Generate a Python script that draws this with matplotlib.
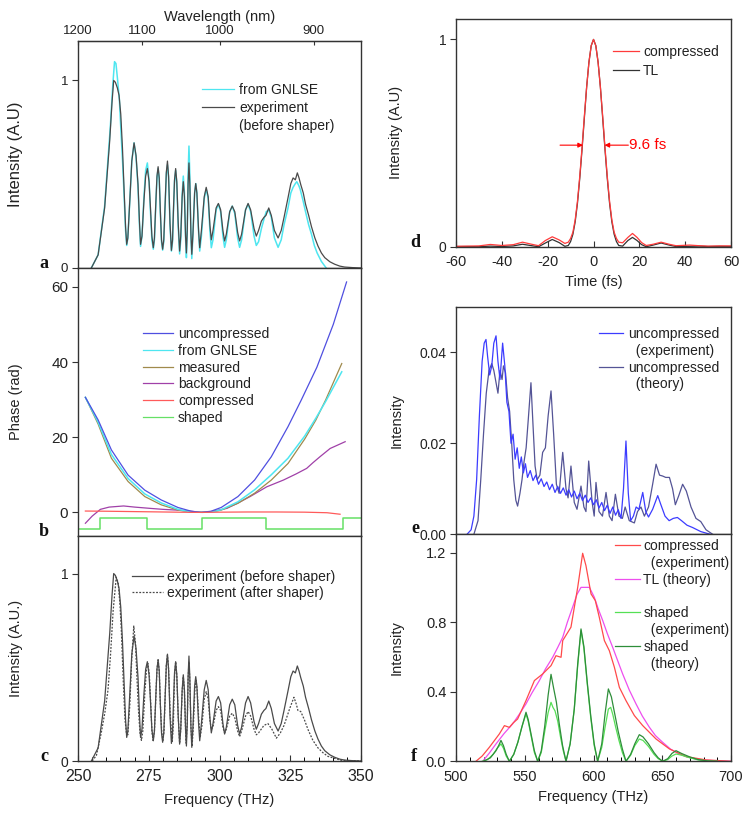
import numpy as np
import matplotlib
matplotlib.use('Agg')
import matplotlib.pyplot as plt
from matplotlib.lines import Line2D
from matplotlib.ticker import MultipleLocator, FixedLocator, NullLocator

plt.rcParams['font.family'] = ['Liberation Sans', 'DejaVu Sans']
plt.rcParams['axes.unicode_minus'] = False

# ---------------- data ----------------
# panel a / c : experiment before shaper  (frequency THz, intensity)
exp_before_pts = [
    (254.7, 0.0), (257.1, 0.07), (259.4, 0.32), (261.2, 0.68), (262.0, 0.88), (262.6, 1.0), (263.2, 0.99),
    (263.9, 0.96), (264.5, 0.92), (265.1, 0.82), (265.7, 0.64), (266.3, 0.41), (266.8, 0.22), (267.2, 0.126),
    (267.6, 0.16), (268.3, 0.36), (269.0, 0.57), (269.8, 0.667), (270.5, 0.60), (271.2, 0.445), (271.7, 0.25),
    (272.1, 0.126), (272.6, 0.17), (273.3, 0.36), (273.9, 0.49), (274.5, 0.53), (275.1, 0.46), (275.6, 0.32),
    (276.1, 0.17), (276.6, 0.108), (277.0, 0.16), (277.5, 0.35), (277.9, 0.49), (278.3, 0.54), (278.7, 0.48),
    (279.1, 0.30), (279.5, 0.15), (279.9, 0.10), (280.3, 0.15), (280.8, 0.35), (281.2, 0.51), (281.6, 0.57),
    (282.0, 0.49), (282.5, 0.24), (283.0, 0.094), (283.4, 0.15), (283.7, 0.30), (284.1, 0.47), (284.5, 0.53),
    (284.9, 0.46), (285.4, 0.24), (285.9, 0.09), (286.3, 0.17), (286.8, 0.38), (287.2, 0.46), (287.6, 0.38),
    (288.0, 0.17), (288.3, 0.08), (288.6, 0.20), (288.9, 0.45), (289.2, 0.56), (289.5, 0.45), (289.9, 0.18),
    (290.2, 0.073), (290.6, 0.18), (291.2, 0.40), (291.6, 0.45), (292.0, 0.40), (292.6, 0.20), (293.0, 0.108),
    (293.6, 0.20), (294.6, 0.38), (295.3, 0.43), (296.0, 0.38), (296.6, 0.23), (297.1, 0.15), (297.7, 0.20),
    (298.8, 0.32), (299.6, 0.344), (300.4, 0.31), (301.2, 0.20), (301.8, 0.144), (302.4, 0.18), (303.6, 0.30),
    (304.5, 0.33), (305.4, 0.30), (306.4, 0.19), (307.1, 0.144), (307.8, 0.18), (309.2, 0.31), (310.1, 0.344),
    (311.0, 0.31), (312.2, 0.21), (313.0, 0.17), (313.8, 0.20), (314.8, 0.25), (315.7, 0.27), (316.4, 0.28),
    (317.4, 0.32), (318.3, 0.28), (319.4, 0.20), (320.7, 0.16), (321.8, 0.20), (322.8, 0.27), (324.2, 0.374),
    (325.2, 0.45), (326.0, 0.48), (326.8, 0.47), (327.5, 0.507), (328.1, 0.48), (328.7, 0.445), (329.6, 0.40),
    (330.4, 0.34), (331.5, 0.28), (332.5, 0.22), (333.7, 0.16), (334.8, 0.117), (336.0, 0.08), (337.2, 0.055),
    (339.0, 0.033), (340.7, 0.02), (342.5, 0.01), (344.2, 0.005), (347.0, 0.002), (350.0, 0.0)]

# panel a : from GNLSE
gnlse_pts = [
    (254.7, 0.0), (257.1, 0.07), (259.4, 0.33), (261.4, 0.75), (262.3, 0.98), (262.9, 1.10), (263.4, 1.09),
    (264.0, 1.0), (264.6, 0.90), (265.2, 0.72), (265.8, 0.55), (266.3, 0.38), (266.8, 0.20), (267.2, 0.12),
    (267.6, 0.16), (268.3, 0.36), (269.0, 0.57), (269.8, 0.667), (270.5, 0.59), (271.2, 0.43), (271.7, 0.23),
    (272.1, 0.115), (272.6, 0.17), (273.3, 0.38), (273.9, 0.52), (274.5, 0.56), (275.1, 0.47), (275.6, 0.30),
    (276.1, 0.15), (276.6, 0.10), (277.0, 0.15), (277.5, 0.34), (277.9, 0.48), (278.3, 0.53), (278.7, 0.47),
    (279.1, 0.29), (279.5, 0.14), (279.9, 0.095), (280.3, 0.14), (280.8, 0.34), (281.2, 0.50), (281.6, 0.55),
    (282.0, 0.48), (282.5, 0.23), (283.0, 0.09), (283.4, 0.14), (283.7, 0.29), (284.1, 0.46), (284.5, 0.52),
    (284.9, 0.45), (285.4, 0.22), (285.9, 0.075), (286.3, 0.15), (286.8, 0.39), (287.2, 0.49), (287.6, 0.40),
    (288.0, 0.16), (288.3, 0.055), (288.6, 0.20), (288.9, 0.50), (289.2, 0.65), (289.5, 0.50), (289.9, 0.17),
    (290.2, 0.05), (290.6, 0.17), (291.2, 0.40), (291.6, 0.45), (292.0, 0.40), (292.6, 0.19), (293.0, 0.09),
    (293.6, 0.17), (294.6, 0.37), (295.3, 0.42), (296.0, 0.37), (296.6, 0.20), (297.1, 0.108), (297.7, 0.15),
    (298.8, 0.31), (299.6, 0.34), (300.4, 0.30), (301.2, 0.17), (301.8, 0.11), (302.4, 0.15), (303.6, 0.30),
    (304.5, 0.33), (305.4, 0.29), (306.4, 0.16), (307.1, 0.11), (307.8, 0.15), (309.2, 0.31), (310.1, 0.34),
    (311.0, 0.30), (312.2, 0.17), (313.0, 0.12), (313.8, 0.14), (314.8, 0.21), (315.7, 0.26), (316.5, 0.30),
    (317.4, 0.31), (318.3, 0.27), (319.4, 0.16), (320.7, 0.11), (321.8, 0.15), (322.8, 0.23), (324.2, 0.32),
    (325.2, 0.40), (326.0, 0.43), (326.8, 0.45), (327.3, 0.46), (328.0, 0.44), (328.5, 0.42), (329.5, 0.36),
    (330.4, 0.30), (331.5, 0.23), (332.5, 0.18), (333.5, 0.12), (334.5, 0.08), (336.0, 0.035), (337.7, 0.0)]

# panel c : experiment after shaper
exp_after_pts = [
    (255.0, 0.0), (256.5, 0.03), (258.2, 0.15), (259.5, 0.26), (260.6, 0.38), (261.5, 0.57), (262.4, 0.80),
    (263.5, 0.98), (264.2, 0.95), (264.8, 0.84), (265.3, 0.70), (266.0, 0.42), (266.6, 0.22), (267.1, 0.15),
    (267.6, 0.14), (268.3, 0.30), (269.0, 0.55), (269.7, 0.72), (270.3, 0.63), (270.8, 0.45), (271.4, 0.26),
    (271.9, 0.15), (272.4, 0.11), (272.9, 0.16), (273.6, 0.36), (274.2, 0.49), (274.7, 0.52), (275.2, 0.46),
    (275.8, 0.27), (276.1, 0.16), (276.5, 0.11), (277.0, 0.16), (277.5, 0.34), (277.9, 0.49), (278.3, 0.54),
    (278.7, 0.48), (279.1, 0.30), (279.6, 0.15), (280.0, 0.11), (280.4, 0.16), (280.8, 0.35), (281.2, 0.51),
    (281.6, 0.565), (282.0, 0.49), (282.6, 0.24), (283.3, 0.105), (283.7, 0.20), (284.1, 0.45), (284.5, 0.53),
    (284.9, 0.46), (285.4, 0.24), (285.9, 0.095), (286.3, 0.17), (286.8, 0.37), (287.2, 0.45), (287.6, 0.37),
    (288.0, 0.17), (288.2, 0.095), (288.6, 0.20), (288.9, 0.44), (289.2, 0.53), (289.5, 0.43), (289.9, 0.18),
    (290.3, 0.078), (290.7, 0.17), (291.3, 0.38), (291.7, 0.43), (292.1, 0.38), (292.7, 0.21), (293.2, 0.13),
    (293.8, 0.19), (294.6, 0.33), (295.3, 0.37), (296.0, 0.33), (296.6, 0.22), (297.1, 0.167), (297.8, 0.19),
    (298.8, 0.27), (299.6, 0.29), (300.4, 0.27), (301.2, 0.18), (301.8, 0.15), (302.4, 0.17), (303.6, 0.24),
    (304.5, 0.255), (305.4, 0.23), (306.4, 0.16), (307.1, 0.13), (307.8, 0.16), (309.2, 0.24), (310.1, 0.264),
    (311.0, 0.24), (312.2, 0.17), (313.0, 0.14), (313.8, 0.15), (315.7, 0.19), (317.1, 0.20), (318.5, 0.17),
    (320.1, 0.122), (321.5, 0.15), (322.8, 0.19), (324.8, 0.28), (326.3, 0.34), (327.2, 0.30), (327.7, 0.27),
    (328.7, 0.264), (330.0, 0.22), (331.3, 0.167), (333.0, 0.11), (334.8, 0.07), (336.5, 0.045), (338.3, 0.025),
    (343.0, 0.004), (350.0, 0.0)]

freq_exp, int_exp = [list(v) for v in zip(*exp_before_pts)]
freq_gnlse, int_gnlse = [list(v) for v in zip(*gnlse_pts)]
freq_after, int_after = [list(v) for v in zip(*exp_after_pts)]

# panel b : phases (rad)
freq_unc = [252.6, 257.1, 261.8, 267.7, 273.6, 279.4, 285.3, 290.0, 293.6, 297.0, 300.6, 306.5, 312.4,
            318.3, 324.2, 328.9, 334.4, 340.2, 344.9]
phase_unc = [30.6, 24.6, 16.6, 9.9, 5.9, 3.3, 1.3, 0.3, 0.0, 0.3, 1.3, 4.2, 8.6,
             14.8, 22.8, 29.9, 38.6, 50.0, 61.3]
freq_meas = [252.6, 257.1, 261.8, 267.7, 273.6, 279.4, 285.3, 290.0, 294.0, 298.0, 300.6, 306.5, 312.4,
             318.3, 324.2, 330.1, 334.0, 337.5, 343.2]
phase_gnlse = [30.6, 24.0, 15.4, 9.0, 4.9, 2.5, 0.8, 0.1, 0.0, 0.2, 0.7, 2.8, 6.0,
               10.0, 14.4, 20.3, 25.0, 29.5, 37.4]
phase_meas = [30.6, 23.5, 14.4, 8.2, 4.2, 2.0, 0.6, 0.1, 0.0, 0.2, 0.6, 2.4, 5.1,
              8.6, 13.0, 19.5, 24.5, 29.9, 39.6]
freq_bg = [252.6, 255.0, 257.9, 261.0, 266.1, 270.0, 275.5, 280.0, 284.9, 290.0, 293.2, 297.0, 302.6,
           306.0, 310.8, 316.7, 322.6, 327.0, 330.8, 333.0, 335.5, 339.1, 344.4]
phase_bg = [-2.9, -1.0, 0.8, 1.4, 1.7, 1.4, 1.06, 0.8, 0.6, 0.3, 0.0, 0.2, 1.06,
            2.3, 4.2, 6.8, 8.6, 10.2, 11.7, 13.2, 14.8, 17.0, 18.8]
freq_comp = [252.6, 260.0, 270.0, 280.0, 290.0, 294.0, 300.0, 310.0, 320.0, 330.0, 338.0, 342.6]
phase_comp = [0.35, 0.30, 0.20, 0.10, 0.0, 0.0, 0.05, 0.10, 0.10, 0.05, -0.10, -0.50]
freq_shaped = [250.0, 257.9, 274.4, 293.8, 316.5, 343.5, 350.0]
phase_shaped = [-4.5, -1.4, -4.5, -1.4, -4.5, -1.4, -1.4]

# panel d : temporal intensity
time_fs = [-60, -55, -50, -45, -40, -35, -31, -27, -24, -21, -18, -15, -12.5, -11, -10, -9, -8, -7, -6,
           -5, -4, -3, -2, -1, 0, 1, 2, 3, 4, 5, 6, 7, 8, 9, 10, 11, 12.7, 15, 17, 19, 21, 23, 26,
           29.5, 33, 36, 42, 46, 50, 55, 60]
int_compressed_t = [0.002, 0.003, 0.004, 0.011, 0.006, 0.010, 0.022, 0.012, 0.005, 0.030, 0.048, 0.033,
                    0.016, 0.022, 0.040, 0.070, 0.130, 0.220, 0.340, 0.480, 0.630, 0.770, 0.890, 0.970,
                    1.000, 0.970, 0.890, 0.770, 0.630, 0.480, 0.340, 0.220, 0.130, 0.070, 0.040, 0.022,
                    0.019, 0.045, 0.064, 0.045, 0.020, 0.006, 0.012, 0.022, 0.012, 0.005, 0.008, 0.005,
                    0.003, 0.004, 0.004]
int_tl_t = [0.001, 0.001, 0.000, 0.003, 0.001, 0.004, 0.012, 0.005, 0.000, 0.018, 0.035, 0.020,
            0.002, 0.006, 0.025, 0.060, 0.120, 0.210, 0.330, 0.470, 0.620, 0.770, 0.890, 0.970,
            1.000, 0.970, 0.890, 0.770, 0.620, 0.470, 0.330, 0.210, 0.120, 0.060, 0.025, 0.006,
            0.003, 0.030, 0.045, 0.030, 0.010, 0.000, 0.008, 0.018, 0.008, 0.001, 0.002, 0.003,
            0.001, 0.002, 0.001]

# panel e : uncompressed
freq_e_exp = [508, 511, 513, 515, 517, 519, 520.5, 521.8, 523, 524.5, 526, 527.5, 529.1, 530.5, 532, 533.9,
              535.5, 537, 538.5, 540, 541.5, 543, 544.5, 546, 547.5, 549, 550.5, 552, 554, 556, 558, 560,
              562, 564, 566, 568, 570, 572, 574, 576, 578, 580, 582, 584, 586, 588, 590, 592, 594, 596,
              598, 600, 602, 604, 606, 608, 610, 612, 614, 616, 618, 620, 621.8, 623.6, 625.3, 627, 629,
              631, 633, 635.8, 638, 640, 643, 646.7, 649, 652, 655, 658, 661, 664, 668, 672, 678, 685]
int_e_exp = [0, 0.001, 0.004, 0.012, 0.026, 0.038, 0.042, 0.0428, 0.039, 0.035, 0.037, 0.042, 0.0436, 0.038,
             0.034, 0.042, 0.037, 0.029, 0.027, 0.020, 0.022, 0.0165, 0.019, 0.0145, 0.017, 0.0135, 0.0155,
             0.0125, 0.014, 0.0118, 0.013, 0.011, 0.0122, 0.0105, 0.0115, 0.0098, 0.011, 0.0092, 0.0105,
             0.009, 0.0102, 0.0086, 0.0098, 0.0082, 0.0095, 0.0078, 0.009, 0.0074, 0.0086, 0.007, 0.008,
             0.0065, 0.0076, 0.0058, 0.007, 0.0052, 0.0064, 0.0046, 0.006, 0.0042, 0.0054, 0.0035, 0.010,
             0.0205, 0.009, 0.003, 0.004, 0.006, 0.0055, 0.0092, 0.005, 0.0038, 0.0055, 0.0085, 0.0065,
             0.004, 0.003, 0.0035, 0.0037, 0.003, 0.002, 0.0015, 0.0006, 0]
freq_e_th = [513, 516, 518, 520, 522, 524, 526, 527.5, 529, 530.5, 532, 533.5, 534.5, 536, 537.5, 539, 540.5,
             542, 543.5, 544.8, 546.5, 548, 549.5, 551, 552.5, 554.5, 556, 557.5, 559, 561, 563, 565, 567,
             569.1, 571, 573, 575, 577.6, 580, 581.5, 583.6, 586, 588, 590.9, 593, 594.5, 596.5, 599, 600.5,
             601.8, 604, 606.5, 609.1, 611.5, 613.5, 615.9, 618.5, 621, 623, 626, 629.7, 632, 634.5, 637,
             640, 643, 645.5, 648, 650.3, 652.5, 655.2, 657.5, 659.5, 662, 664.8, 667.5, 670.9, 674.5, 678,
             681.8, 686.7]
int_e_th = [0, 0.003, 0.012, 0.022, 0.031, 0.036, 0.0375, 0.036, 0.0335, 0.031, 0.036, 0.034, 0.037, 0.0355,
            0.030, 0.027, 0.020, 0.012, 0.0075, 0.0062, 0.009, 0.012, 0.016, 0.019, 0.025, 0.0333, 0.024,
            0.015, 0.012, 0.013, 0.018, 0.019, 0.026, 0.0315, 0.022, 0.011, 0.009, 0.018, 0.010, 0.008,
            0.015, 0.007, 0.0055, 0.0106, 0.006, 0.005, 0.0161, 0.007, 0.004, 0.0114, 0.005, 0.004, 0.0092,
            0.004, 0.003, 0.0088, 0.004, 0.0035, 0.006, 0.003, 0.0025, 0.005, 0.006, 0.004, 0.006, 0.011,
            0.0154, 0.013, 0.0128, 0.0125, 0.0125, 0.010, 0.0065, 0.0085, 0.011, 0.0095, 0.006, 0.0035,
            0.0028, 0.001, 0]

# panel f : compressed / TL / shaped
freq_f_comp = [514.5, 519, 524.2, 528, 531.5, 535.2, 538.8, 541.5, 544.8, 550.9, 557.0, 563.0, 569.1, 572.7,
               576.4, 577.6, 583.6, 588.5, 592.1, 594.5, 598.2, 601.3, 604.2, 607.9, 611.5, 615.2, 618.8,
               623.6, 629.7, 635.8, 645.5, 655.2, 667.3, 681.8, 700]
int_f_comp = [0, 0.03, 0.08, 0.12, 0.157, 0.205, 0.195, 0.22, 0.243, 0.349, 0.464, 0.502, 0.55, 0.607,
              0.598, 0.694, 0.771, 1.0, 1.196, 1.125, 0.962, 0.924, 0.828, 0.694, 0.636, 0.54, 0.425,
              0.349, 0.263, 0.205, 0.128, 0.071, 0.027, 0.008, 0]
freq_f_tl = [519.4, 524, 529.1, 535, 541.2, 546, 550.9, 555, 560.6, 565, 570.3, 574, 577.6, 581, 584.8,
             588, 590.9, 594, 597, 600.6, 603.5, 606.7, 610, 613.9, 617.5, 621.2, 626, 630.9, 635.5, 640.6,
             645, 650.3, 656, 662.4, 668, 674.5, 682, 691.5, 700]
int_f_tl = [0, 0.045, 0.10, 0.16, 0.215, 0.27, 0.33, 0.39, 0.464, 0.53, 0.598, 0.655, 0.713, 0.80, 0.886,
            0.96, 1.0, 1.0, 1.0, 0.943, 0.875, 0.809, 0.735, 0.656, 0.58, 0.502, 0.41, 0.33, 0.26, 0.196,
            0.148, 0.109, 0.07, 0.042, 0.025, 0.013, 0.006, 0.002, 0]
freq_f_shexp = [519, 523, 527, 530, 532.7, 534.5, 536.5, 538.8, 542, 545, 548, 550.9, 552.5, 555, 557, 559.4,
                562, 564.5, 567, 569.1, 570.5, 572, 574, 576, 578, 580, 583, 586, 588.5, 590.9, 593, 595.5,
                598, 600.5, 603, 606, 608.5, 610.8, 612.5, 614, 616, 618.5, 621, 623.6, 627, 630, 633.3, 636,
                640, 644, 647, 650.3, 654, 657, 660, 664, 670, 676, 683, 690]
int_f_shexp = [0, 0.01, 0.04, 0.075, 0.10, 0.075, 0.03, 0, 0.04, 0.11, 0.20, 0.272, 0.23, 0.13, 0.05, 0,
               0.05, 0.17, 0.28, 0.339, 0.31, 0.29, 0.23, 0.14, 0.06, 0, 0.10, 0.30, 0.55, 0.751, 0.65, 0.44,
               0.25, 0.09, 0, 0.08, 0.20, 0.30, 0.31, 0.27, 0.20, 0.12, 0.05, 0, 0.035, 0.09, 0.128, 0.12,
               0.085, 0.04, 0.015, 0, 0.01, 0.03, 0.042, 0.035, 0.02, 0.008, 0.002, 0]
freq_f_shth = [520, 525, 529, 531, 532.7, 534.5, 536.5, 538.8, 542, 545, 548, 550.9, 552.5, 555, 557, 559.4,
               562, 564.5, 567, 569.1, 571, 573, 575, 577.5, 580, 583, 586, 588.5, 590.9, 593, 595.5, 598,
               600.5, 603, 606, 608.5, 610.8, 613, 615.5, 618, 621, 623.6, 627, 630, 633.3, 636, 640, 644,
               647, 650.3, 654, 657, 660, 664, 670, 676, 683, 690]
int_f_shth = [0, 0.02, 0.06, 0.09, 0.12, 0.09, 0.04, 0, 0.04, 0.11, 0.20, 0.282, 0.24, 0.14, 0.06, 0,
              0.06, 0.20, 0.38, 0.50, 0.42, 0.34, 0.22, 0.09, 0, 0.10, 0.30, 0.56, 0.761, 0.66, 0.45, 0.26,
              0.10, 0, 0.10, 0.28, 0.416, 0.37, 0.27, 0.17, 0.07, 0, 0.04, 0.10, 0.153, 0.14, 0.10, 0.05,
              0.02, 0, 0.015, 0.045, 0.061, 0.045, 0.025, 0.01, 0.002, 0]

wavelength_ticks = [1200, 1100, 1000, 900]

# ---------------- styling helpers ----------------
TXT = '#222222'
SPINE = '#333333'
LW = 0.9
LABFS = 10.5
LEGFS = 10


def style(ax, xfs=10, yfs=10):
    for s in ax.spines.values():
        s.set_color(SPINE)
        s.set_linewidth(1.0)
    ax.tick_params(colors=SPINE, labelcolor=TXT, width=0.8)
    ax.tick_params(axis='y', direction='out', length=4, pad=3, labelsize=yfs)
    ax.tick_params(axis='x', direction='in', length=4, pad=6, labelsize=xfs)
    ax.tick_params(which='minor', axis='x', direction='in', length=3, width=0.7)


def legend(ax, entries, x, y, hl, pad, spacing):
    handles, labels = [], []
    for color, ls, text in entries:
        if color is None:
            handles.append(Line2D([], [], linestyle='none'))
        else:
            handles.append(Line2D([], [], color=color, linestyle=ls, lw=LW))
        labels.append(text)
    ax.legend(handles, labels, loc='upper left', bbox_to_anchor=(x, y), frameon=False,
              fontsize=LEGFS, handlelength=hl, handletextpad=pad, labelspacing=spacing,
              borderpad=0, borderaxespad=0, labelcolor=TXT)


fig = plt.figure(figsize=(7.51, 8.17), dpi=100)
axa = fig.add_axes([0.1039, 0.6720, 0.3768, 0.2778])
axb = fig.add_axes([0.1039, 0.3439, 0.3768, 0.3280])
axc = fig.add_axes([0.1039, 0.0685, 0.3768, 0.2754])
axd = fig.add_axes([0.6072, 0.6980, 0.3662, 0.2791])
axe = fig.add_axes([0.6072, 0.3460, 0.3662, 0.2786])
axf = fig.add_axes([0.6072, 0.0682, 0.3662, 0.2778])
style(axa, 10, 9.5)
style(axb, 10, 11)
style(axc, 11.5, 10)
style(axd, 10.5, 10)
style(axe, 10, 10)
style(axf, 10.5, 10.5)

# ---- panel a ----
C_CYAN = '#4ee6f0'
C_GRAY = '#4a4a4a'
axa.plot(freq_gnlse, int_gnlse, color=C_CYAN, lw=1.1)
axa.plot(freq_exp, int_exp, color=C_GRAY, lw=LW)
axa.set_xlim(250, 350)
axa.set_ylim(0, 1.21)
axa.set_yticks([0, 1])
axa.set_yticklabels(['0', '1'])
axa.tick_params(axis='x', bottom=False, labelbottom=False)
axa.set_ylabel('Intensity (A.U)', fontsize=12, color=TXT)
axa.yaxis.set_label_coords(-0.193, 0.5)


def f2l(x):
    x = np.asarray(x, dtype=float)
    with np.errstate(divide='ignore', invalid='ignore'):
        return 300000.0 / x


sec = axa.secondary_xaxis('top', functions=(f2l, f2l))
sec.xaxis.set_major_locator(FixedLocator(wavelength_ticks))
sec.xaxis.set_minor_locator(NullLocator())
sec.tick_params(direction='in', length=3, labelsize=9.5, colors=SPINE, labelcolor=TXT, pad=3)
sec.set_xlabel('Wavelength (nm)', fontsize=LABFS, color=TXT, labelpad=3)
legend(axa, [(C_CYAN, '-', 'from GNLSE'), (C_GRAY, '-', 'experiment'), (None, '-', '(before shaper)')],
       0.437, 0.815, 2.3, 0.4, 0.3)

# ---- panel b ----
C_BLUE = '#4f4fe0'
C_OLIVE = '#a08a4c'
C_PURP = '#a040a8'
C_RED = '#ff5a5a'
C_GREEN = '#66e066'
axb.plot(freq_bg, phase_bg, color=C_PURP, lw=LW)
axb.plot(freq_meas, phase_meas, color=C_OLIVE, lw=LW)
axb.plot(freq_meas, phase_gnlse, color=C_CYAN, lw=1.1)
axb.plot(freq_unc, phase_unc, color=C_BLUE, lw=LW)
axb.plot(freq_comp, phase_comp, color=C_RED, lw=LW)
axb.step(freq_shaped, phase_shaped, where='post', color=C_GREEN, lw=1.1)
axb.set_xlim(250, 350)
axb.set_ylim(-6.3, 65)
axb.set_yticks([0, 20, 40, 60])
axb.tick_params(axis='x', bottom=False, labelbottom=False)
axb.set_ylabel('Phase (rad)', fontsize=LABFS, color=TXT)
axb.yaxis.set_label_coords(-0.193, 0.5)
legend(axb, [(C_BLUE, '-', 'uncompressed'), (C_CYAN, '-', 'from GNLSE'), (C_OLIVE, '-', 'measured'),
             (C_PURP, '-', 'background'), (C_RED, '-', 'compressed'), (C_GREEN, '-', 'shaped')],
       0.2297, 0.78, 2.16, 0.36, 0.2)

# ---- panel c ----
DOT = (0, (1.5, 1.2))
axc.plot(freq_exp, int_exp, color=C_GRAY, lw=LW)
axc.plot(freq_after, int_after, color=C_GRAY, lw=LW, linestyle=DOT)
axc.set_xlim(250, 350)
axc.set_ylim(0, 1.2)
axc.set_yticks([0, 1])
axc.set_yticklabels(['0', '1'])
axc.xaxis.set_major_locator(FixedLocator([250, 275, 300, 325, 350]))
axc.xaxis.set_minor_locator(MultipleLocator(5))
axc.set_xlabel('Frequency (THz)', fontsize=LABFS, color=TXT)
axc.xaxis.set_label_coords(0.5, -0.142)
axc.xaxis.label.set_va('top')
axc.set_ylabel('Intensity (A.U.)', fontsize=LABFS, color=TXT)
axc.yaxis.set_label_coords(-0.193, 0.5)
legend(axc, [(C_GRAY, '-', 'experiment (before shaper)'), (C_GRAY, DOT, 'experiment (after shaper)')],
       0.19, 0.85, 2.25, 0.27, 0.15)

# ---- panel d ----
C_RED_D = '#ff3b3b'
C_BLACK = '#333333'
axd.plot(time_fs, int_tl_t, color=C_BLACK, lw=LW)
axd.plot(time_fs, int_compressed_t, color=C_RED_D, lw=LW)
axd.set_xlim(-60, 60)
axd.set_ylim(0, 1.1)
axd.set_yticks([0, 1])
axd.set_yticklabels(['0', '1'])
axd.set_xticks([-60, -40, -20, 0, 20, 40, 60])
axd.set_xlabel('Time (fs)', fontsize=LABFS, color=TXT)
axd.xaxis.set_label_coords(0.5, -0.124)
axd.xaxis.label.set_va('top')
axd.set_ylabel('Intensity (A.U)', fontsize=LABFS, color=TXT)
axd.yaxis.set_label_coords(-0.191, 0.5)
arrow = dict(arrowstyle='-|>', color='red', lw=0.8, mutation_scale=7, shrinkA=0, shrinkB=0)
axd.annotate('', xy=(-4.6, 0.49), xytext=(-14.6, 0.49), arrowprops=arrow)
axd.annotate('', xy=(4.8, 0.49), xytext=(15.2, 0.49), arrowprops=arrow)
axd.text(15.6, 0.49, '9.6 fs', color='red', fontsize=11, va='center', ha='left')
legend(axd, [(C_RED_D, '-', 'compressed'), (C_BLACK, '-', 'TL')], 0.571, 0.886, 1.9, 0.27, 0.35)

# ---- panel e ----
C_E_EXP = '#3c3cff'
C_E_TH = '#545496'
axe.plot(freq_e_th, int_e_th, color=C_E_TH, lw=LW)
axe.plot(freq_e_exp, int_e_exp, color=C_E_EXP, lw=LW)
axe.set_xlim(500, 700)
axe.set_ylim(0, 0.05)
axe.set_yticks([0, 0.02, 0.04])
axe.set_yticklabels(['0.00', '0.02', '0.04'])
axe.tick_params(axis='x', bottom=False, labelbottom=False)
axe.set_ylabel('Intensity', fontsize=LABFS, color=TXT)
axe.yaxis.set_label_coords(-0.191, 0.5)
legend(axe, [(C_E_EXP, '-', 'uncompressed'), (None, '-', '  (experiment)'),
             (C_E_TH, '-', 'uncompressed'), (None, '-', '  (theory)')],
       0.52, 0.911, 1.75, 0.36, 0.2)

# ---- panel f ----
C_F_RED = '#ff4a4a'
C_F_MAG = '#ee4eee'
C_F_GEXP = '#55e055'
C_F_GTH = '#2e8e3a'
axf.plot(freq_f_tl, int_f_tl, color=C_F_MAG, lw=LW)
axf.plot(freq_f_comp, int_f_comp, color=C_F_RED, lw=LW)
axf.plot(freq_f_shexp, int_f_shexp, color=C_F_GEXP, lw=LW)
axf.plot(freq_f_shth, int_f_shth, color=C_F_GTH, lw=LW)
axf.set_xlim(500, 700)
axf.set_ylim(0, 1.305)
axf.set_yticks([0, 0.4, 0.8, 1.2])
axf.set_yticklabels(['0.0', '0.4', '0.8', '1.2'])
axf.xaxis.set_major_locator(FixedLocator([500, 550, 600, 650, 700]))
axf.xaxis.set_minor_locator(MultipleLocator(10))
axf.set_xlabel('Frequency (THz)', fontsize=LABFS, color=TXT)
axf.xaxis.set_label_coords(0.5, -0.126)
axf.xaxis.label.set_va('top')
axf.set_ylabel('Intensity', fontsize=LABFS, color=TXT)
axf.yaxis.set_label_coords(-0.191, 0.5)
legend(axf, [(C_F_RED, '-', 'compressed'), (None, '-', '  (experiment)'), (C_F_MAG, '-', 'TL (theory)'),
             (None, '-', ' '), (C_F_GEXP, '-', 'shaped'), (None, '-', '  (experiment)'),
             (C_F_GTH, '-', 'shaped'), (None, '-', '  (theory)')],
       0.578, 0.979, 1.8, 0.24, 0.2)

# ---- panel letters ----
W, H = 751.0, 817.0
for lx, ly, lt in [(39, 268, 'a'), (39, 536, 'b'), (40, 761, 'c'),
                   (410, 247, 'd'), (411, 533, 'e'), (411, 761, 'f')]:
    fig.text(lx / W, 1 - ly / H, lt, fontsize=13, fontweight='bold',
             family=['Liberation Serif', 'DejaVu Serif'], color='#111111', va='baseline', ha='left')

fig.savefig('out.png', dpi=100)
